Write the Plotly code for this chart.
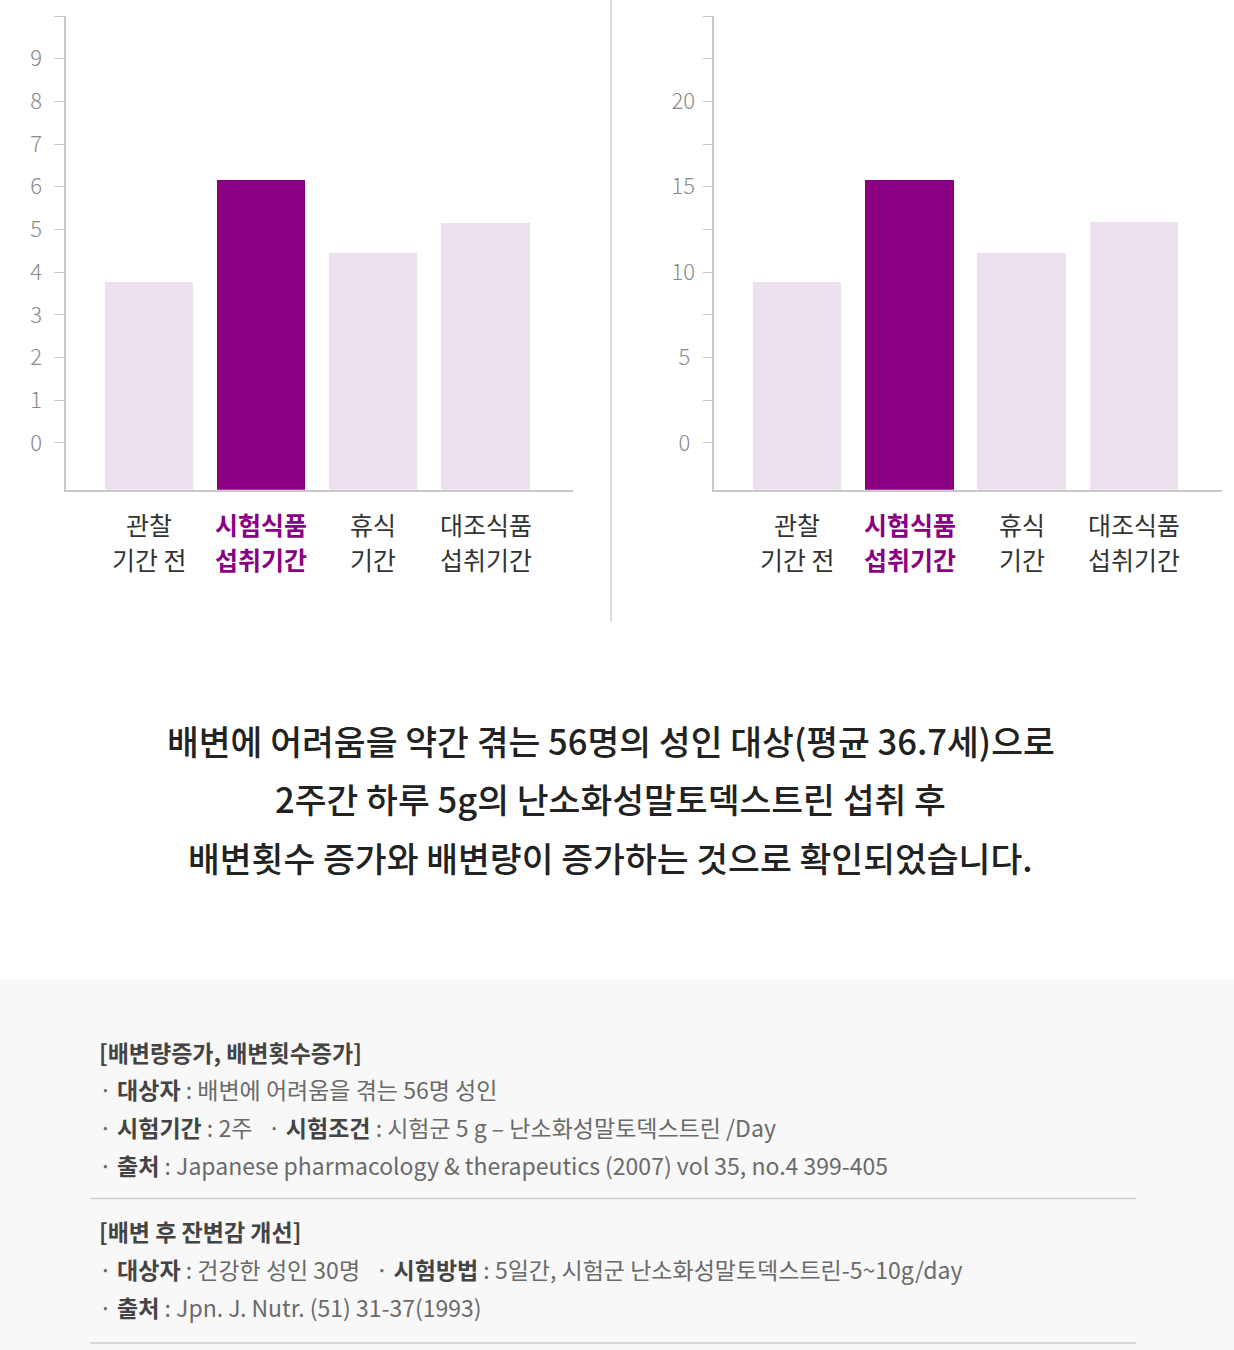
import plotly.graph_objects as go

W, H = 1234, 1350
# vertical placement: reference row -> figure row (near identity, keeps top labels inside the page)
Y_TOP_REF, Y_TOP_FIG = 20, 16
Y_BOT_REF, Y_BOT_FIG = 1343, 1343

# ---------------- data ----------------
categories = ["관찰<br>기간 전", "시험식품<br>섭취기간", "휴식<br>기간", "대조식품<br>섭취기간"]
highlight_index = 1
left_values = [3.76, 6.16, 4.46, 5.16]
right_values = [9.4, 15.4, 11.15, 12.95]
left_ticks = [0, 1, 2, 3, 4, 5, 6, 7, 8, 9, 10]
right_ticks = [0, 2.5, 5, 7.5, 10, 12.5, 15, 17.5, 20, 22.5, 25]
right_tick_labels = ["0", "", "5", "", "10", "", "15", "", "20", "", "25"]

summary_lines = [
    "배변에 어려움을 약간 겪는 56명의 성인 대상(평균 36.7세)으로",
    "2주간 하루 5g의 난소화성말토덱스트린 섭취 후",
    "배변횟수 증가와 배변량이 증가하는 것으로 확인되었습니다.",
]
note_titles = ["[배변량증가, 배변횟수증가]", "[배변 후 잔변감 개선]"]
note_block1 = [
    [("대상자", "배변에 어려움을 겪는 56명 성인")],
    [("시험기간", "2주"), ("시험조건", "시험군 5 g – 난소화성말토덱스트린 /Day")],
    [("출처", "Japanese pharmacology & therapeutics (2007) vol 35, no.4 399-405")],
]
note_block2 = [
    [("대상자", "건강한 성인 30명"), ("시험방법", "5일간, 시험군 난소화성말토덱스트린-5~10g/day")],
    [("출처", "Jpn. J. Nutr. (51) 31-37(1993)")],
]

# ---------------- styles ----------------
FONT = "Noto Sans CJK KR"
PURPLE = "#8b0083"
LIGHT = "#ece0ef"
AXIS = "#c9c9c9"
BOX = "#f8f8f8"

_B = (Y_BOT_FIG - Y_TOP_FIG) / (Y_BOT_REF - Y_TOP_REF)
_A = Y_TOP_FIG - _B * Y_TOP_REF


def px_x(x):
    return x / W


def px_y(y):
    yf = max(0.0, _A + _B * y)
    return 1 - yf / H


def centred(label):
    # single-digit labels get a trailing space so labels look centre-aligned
    return label + "\u00a0" if len(label) == 1 else label


fig = go.Figure()

colors = [PURPLE if i == highlight_index else LIGHT for i in range(len(categories))]

# axis geometry (reference pixels)
top_px, bottom_px, zero_px = 20, 492.3, 445.7
left_max, right_max = 10, 25
left_min = -(bottom_px - zero_px) / ((zero_px - top_px) / left_max)
right_min = -(bottom_px - zero_px) / ((zero_px - top_px) / right_max)

fig.add_trace(go.Bar(
    x=categories, y=[v - left_min for v in left_values], base=left_min,
    marker=dict(color=colors, line=dict(width=0)), width=0.787,
    xaxis="x", yaxis="y", showlegend=False,
    customdata=left_values, hovertemplate="%{customdata}<extra></extra>",
))
fig.add_trace(go.Bar(
    x=categories, y=[v - right_min for v in right_values], base=right_min,
    marker=dict(color=colors, line=dict(width=0)), width=0.787,
    xaxis="x2", yaxis="y2", showlegend=False,
    customdata=right_values, hovertemplate="%{customdata}<extra></extra>",
))

ydom = [px_y(bottom_px), px_y(top_px)]
xcommon = dict(showline=True, linecolor=AXIS, linewidth=1.5, showgrid=False,
               zeroline=False, ticks="", showticklabels=False, fixedrange=True,
               type="category", range=[-0.74, 3.78])
ycommon = dict(showline=True, linecolor=AXIS, linewidth=1.5, showgrid=False,
               zeroline=False, ticks="outside", ticklen=10, tickcolor=AXIS,
               tickwidth=1.2, fixedrange=True, ticklabelstandoff=3,
               tickfont=dict(family=FONT, size=22, color="#888888", weight=300))

fig.update_layout(
    width=W, height=H, margin=dict(l=0, r=0, t=0, b=0),
    paper_bgcolor="white", plot_bgcolor="rgba(0,0,0,0)",
    bargap=0,
    xaxis=dict(domain=[px_x(66), px_x(573)], anchor="y", **xcommon),
    yaxis=dict(domain=ydom, anchor="x", range=[left_min, left_max],
               tickmode="array", tickvals=left_ticks,
               ticktext=[centred(str(t)) for t in left_ticks], **ycommon),
    xaxis2=dict(domain=[px_x(714.3), px_x(1221.7)], anchor="y2", **xcommon),
    yaxis2=dict(domain=ydom, anchor="x2", range=[right_min, right_max],
                tickmode="array", tickvals=right_ticks,
                ticktext=[centred(t) for t in right_tick_labels], **ycommon),
)

annotations = []
# category labels (two lines each)
for xr in ("x", "x2"):
    for i, cat in enumerate(categories):
        l1, l2 = cat.split("<br>")
        hl = i == highlight_index
        for line, ypx in ((l1, 526), (l2, 561)):
            annotations.append(dict(
                x=cat, xref=xr, y=px_y(ypx), yref="paper", text=line,
                showarrow=False, xanchor="center", yanchor="middle",
                font=dict(family=FONT, size=25,
                          color=PURPLE if hl else "#333333",
                          weight=700 if hl else 400),
            ))

# summary text
for line, ypx in zip(summary_lines, (742, 800, 858)):
    annotations.append(dict(
        x=px_x(610.5), xref="paper", y=px_y(ypx), yref="paper", text=line,
        showarrow=False, xanchor="center", yanchor="middle",
        font=dict(family=FONT, size=34.6, color="#222222", weight=500),
    ))

# notes
GAP = "\u00a0" * 3


def note_text(items):
    parts = []
    for label, value in items:
        parts.append("· <span style='color:#444444'><b>%s</b></span> : %s" % (label, value))
    return GAP.join(parts)


def add_note(text, ypx, title=False):
    annotations.append(dict(
        x=px_x(97), xref="paper", y=px_y(ypx), yref="paper", text=text,
        showarrow=False, xanchor="left", yanchor="middle",
        font=dict(family=FONT, size=23, color="#444444" if title else "#6a6a6a",
                  weight=700 if title else 400),
    ))


add_note(note_titles[0], 1053, title=True)
for items, ypx in zip(note_block1, (1090, 1128, 1166)):
    add_note(note_text(items), ypx)
add_note(note_titles[1], 1231, title=True)
for items, ypx in zip(note_block2, (1269, 1307)):
    add_note(note_text(items), ypx)

fig.update_layout(annotations=annotations)

# background box, divider and separators
shapes = [
    dict(type="rect", xref="paper", yref="paper", x0=0, x1=1, y0=0, y1=px_y(980),
         fillcolor=BOX, line=dict(width=0), layer="below"),
    dict(type="line", xref="paper", yref="paper", x0=px_x(611), x1=px_x(611),
         y0=1, y1=px_y(624), line=dict(color="#cfcfcf", width=1.5)),
    dict(type="line", xref="paper", yref="paper", x0=px_x(90), x1=px_x(1136),
         y0=px_y(1199), y1=px_y(1199), line=dict(color="#cccccc", width=1.5)),
    dict(type="line", xref="paper", yref="paper", x0=px_x(90), x1=px_x(1136),
         y0=px_y(1343), y1=px_y(1343), line=dict(color="#cccccc", width=1.5)),
]
fig.update_layout(shapes=shapes)

post = (
    "(function(){var s=document.createElement('style');"
    "s.textContent='html,body{margin:0!important;padding:0!important;"
    "overflow:hidden!important;}"
    "body>div{font-size:0;line-height:0;}"
    ".plotly-graph-div{position:absolute!important;left:0!important;top:0!important;}';"
    "document.head.appendChild(s);})();"
)
fig.write_html("out.html", post_script=post, config={"displayModeBar": False})
